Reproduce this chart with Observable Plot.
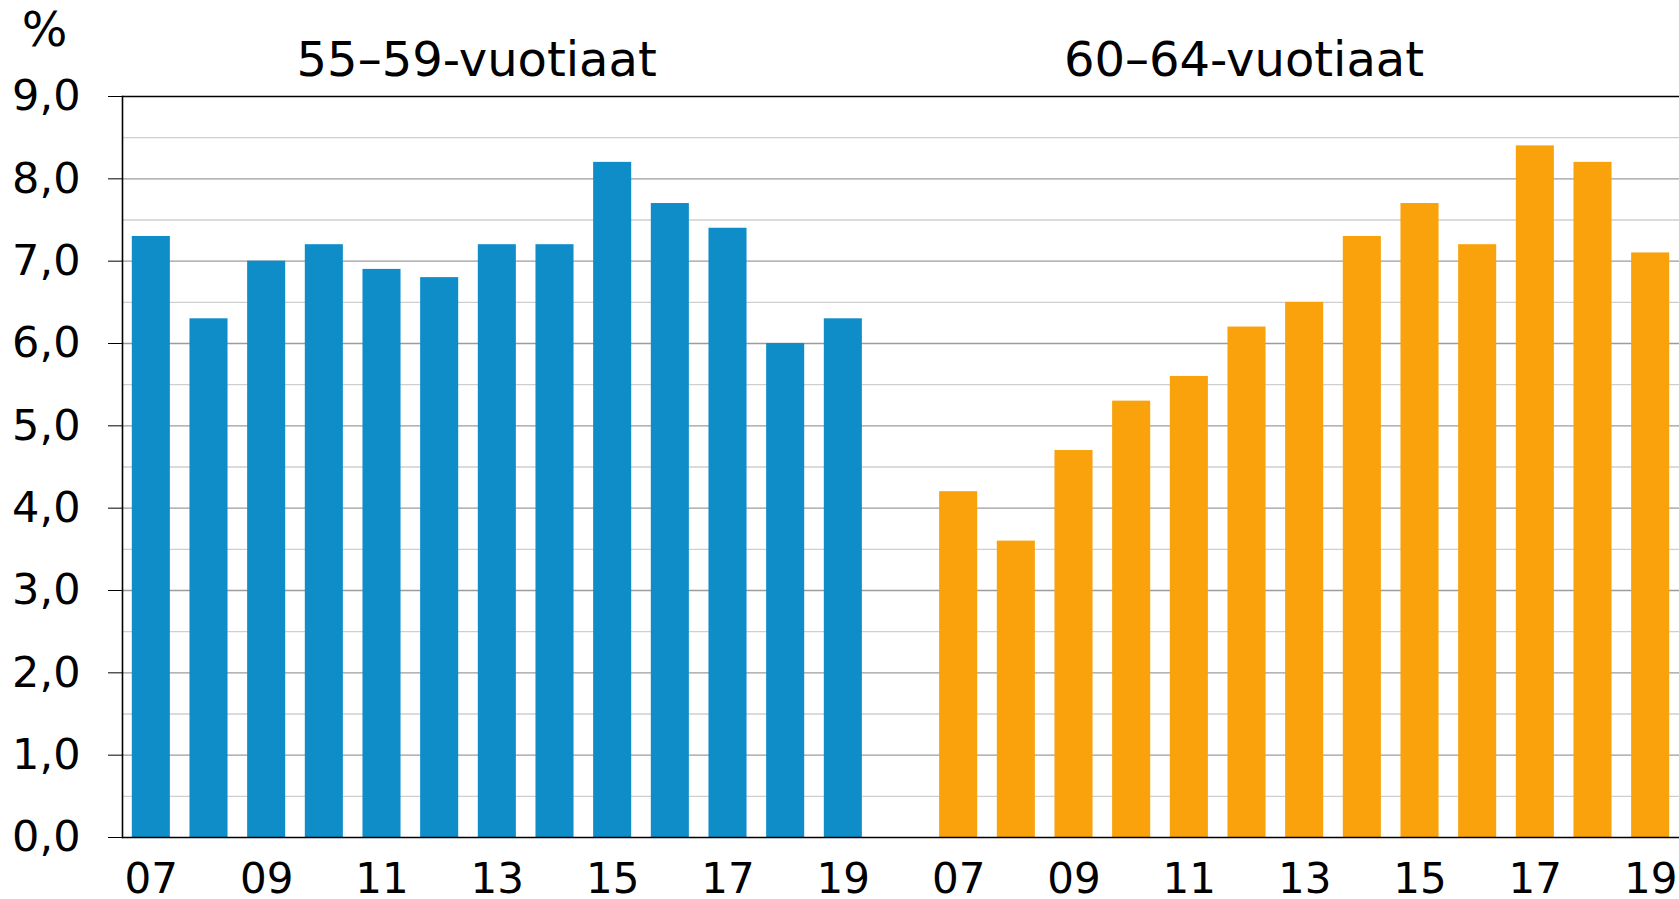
<!DOCTYPE html>
<html>
<head>
<meta charset="utf-8">
<script src="https://cdn.jsdelivr.net/npm/d3@7"></script>
<script src="https://cdn.jsdelivr.net/npm/@observablehq/plot@0.6"></script>
<style>
  html, body { margin: 0; padding: 0; background: #fff; }
  #chart { width: 1679px; height: 899px; }
</style>
</head>
<body>
<div id="chart"></div>
<script>
// Data
const years = ["07","08","09","10","11","12","13","14","15","16","17","18","19"];
const groups = ["55–59-vuotiaat", "60–64-vuotiaat"];
const values5559 = [7.3, 6.3, 7.0, 7.2, 6.9, 6.8, 7.2, 7.2, 8.2, 7.7, 7.4, 6.0, 6.3];
const values6064 = [4.2, 3.6, 4.7, 5.3, 5.6, 6.2, 6.5, 7.3, 7.7, 7.2, 8.4, 8.2, 7.1];
const xTickLabels = ["07","09","11","13","15","17","19"];
const yTicks = [0,1,2,3,4,5,6,7,8,9];
const colors = ["#0f8dc9", "#f9a20b"];

// Build band keys: group A, a gap slot, group B
const keysA = years.map(y => "A" + y);
const keysB = years.map(y => "B" + y);
const domainX = [...keysA, "gap", ...keysB];

const rows = [
  ...years.map((y, i) => ({key: "A" + y, group: groups[0], value: values5559[i]})),
  ...years.map((y, i) => ({key: "B" + y, group: groups[1], value: values6064[i]}))
];

const majorGrid = d3.range(1, 9);
const minorGrid = d3.range(0.5, 9, 1);
const tickKeys = [...xTickLabels.map(t => "A" + t), ...xTickLabels.map(t => "B" + t)];

const font = "DejaVu Sans, Verdana, sans-serif";

const titleOpts = {
  x: "key",
  text: "text",
  frameAnchor: "top",
  dy: -36,
  fontSize: 48,
  lineAnchor: "middle",
  textAnchor: "middle"
};

const chart = Plot.plot({
  width: 1679,
  height: 899,
  marginLeft: 122,
  marginRight: 0,
  marginTop: 96,
  marginBottom: 62,
  style: {fontFamily: font, fontSize: "42px", color: "#000", background: "#fff"},
  x: {domain: domainX, paddingInner: 0.34, paddingOuter: 0.17, align: 0.5, round: false},
  y: {domain: [0, 9]},
  color: {domain: groups, range: colors},
  marks: [
    Plot.ruleY(minorGrid, {stroke: "#cfcfcf", strokeWidth: 1.3}),
    Plot.ruleY(majorGrid, {stroke: "#9c9c9c", strokeWidth: 1.3}),
    Plot.barY(rows, {x: "key", y: "value", fill: "group"}),
    Plot.ruleY([9], {stroke: "#000", strokeWidth: 1.6}),
    Plot.ruleY([0], {stroke: "#000", strokeWidth: 1.6}),
    Plot.frame({anchor: "left", stroke: "#000", strokeWidth: 1.6}),
    Plot.axisY({
      ticks: yTicks,
      tickFormat: d => d.toFixed(1).replace(".", ","),
      tickSize: 14,
      tickPadding: 28,
      fontSize: 43,
      label: null,
      stroke: "#000"
    }),
    Plot.axisX({
      ticks: tickKeys,
      tickFormat: k => k.slice(1),
      tickSize: 0,
      tickPadding: 26,
      fontSize: 42,
      label: null
    }),
    Plot.text([{key: "A12", text: groups[0]}], {...titleOpts, dx: 37}),
    Plot.text([{key: "B12", text: groups[1]}], {...titleOpts, dx: -3}),
    Plot.text(["%"], {
      frameAnchor: "top-left",
      dx: -78,
      dy: -66,
      fontSize: 48,
      textAnchor: "middle",
      lineAnchor: "middle"
    })
  ]
});
document.getElementById("chart").appendChild(chart);
</script>
</body>
</html>
